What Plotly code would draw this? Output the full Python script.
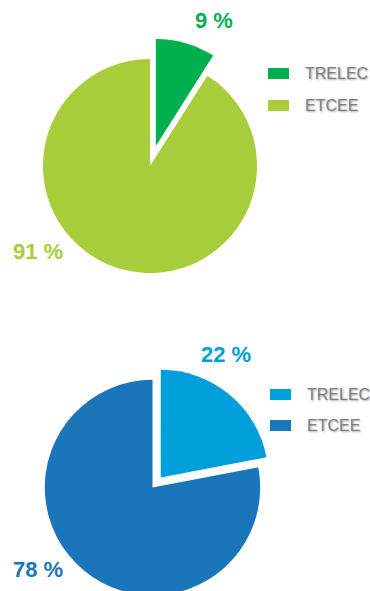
import plotly.graph_objects as go

# ---------------- data ----------------
labels = ["TRELEC", "ETCEE"]
top_values = [9, 91]
bottom_values = [22, 78]
top_colors = ["#00B04F", "#A8CD3A"]
bottom_colors = ["#009FDB", "#1B75BB"]

# ---------------- layout constants (pixels) ----------------
W, H = 370, 610          # figure is a bit taller than the 591 view; bottom pie is clipped like the reference
VIEW_H = 591

TOP = dict(cx=150, cy=166, r=107, pull=0.195)
BOT = dict(cx=152.5, cy=487.5, r=107.7, pull=0.12)


def domain(p):
    half = p["r"] * (1 + p["pull"])
    return dict(x=[(p["cx"] - half) / W, (p["cx"] + half) / W],
                y=[(H - p["cy"] - half) / H, (H - p["cy"] + half) / H])


def px(x, y):
    return x / W, (H - y) / H


fig = go.Figure()
for vals, cols, p in [(top_values, top_colors, TOP), (bottom_values, bottom_colors, BOT)]:
    fig.add_trace(go.Pie(
        labels=labels, values=vals, sort=False, direction="clockwise", rotation=0,
        pull=[p["pull"], 0], marker=dict(colors=cols, line=dict(width=0)),
        textinfo="none", hoverinfo="label+percent", showlegend=False,
        domain=domain(p),
    ))

annotations = []
shapes = []

# percentage labels
pct_pos = [
    (top_values, top_colors, [(214, 20), (37.5, 252)]),
    (bottom_values, bottom_colors, [(226, 354.5), (38, 569)]),
]
for vals, cols, poss in pct_pos:
    for v, c, (x, y) in zip(vals, cols, poss):
        ax, ay = px(x, y)
        annotations.append(dict(
            x=ax, y=ay, xref="paper", yref="paper", text=f"{v} %", showarrow=False,
            xanchor="center", yanchor="middle",
            font=dict(family="Liberation Sans, Arial, sans-serif", size=22, color=c, weight="bold"),
        ))

# manual legends
legends = [
    (top_colors, 268, 303, [73.5, 105.5]),
    (bottom_colors, 270, 305, [394.5, 425.5]),
]
for cols, sx, tx, ys in legends:
    for lab, c, yc in zip(labels, cols, ys):
        x0, y0 = px(sx, yc - 5.5)
        x1, y1 = px(sx + 21, yc + 5.5)
        shapes.append(dict(type="rect", xref="paper", yref="paper",
                           x0=x0, x1=x1, y0=y0, y1=y1,
                           fillcolor=c, line=dict(width=0)))
        ax, ay = px(tx, yc)
        annotations.append(dict(
            x=ax, y=ay, xref="paper", yref="paper", text=lab, showarrow=False,
            xanchor="left", yanchor="middle",
            font=dict(family="Liberation Sans, Arial, sans-serif", size=16, color="#7f7f7f",
                      shadow="1px 1px 2px rgba(0,0,0,0.35)"),
        ))

fig.update_layout(
    width=W, height=H, margin=dict(l=0, r=0, t=0, b=0),
    paper_bgcolor="white", plot_bgcolor="white",
    annotations=annotations, shapes=shapes, showlegend=False,
)

post = ("var gd=document.getElementById('{plot_id}');"
        "gd.style.height='" + str(VIEW_H) + "px';gd.style.overflow='hidden';"
        "document.body.style.margin='0';document.body.style.overflow='hidden';")

fig.write_html("out.html", config={"displayModeBar": False}, post_script=post)
